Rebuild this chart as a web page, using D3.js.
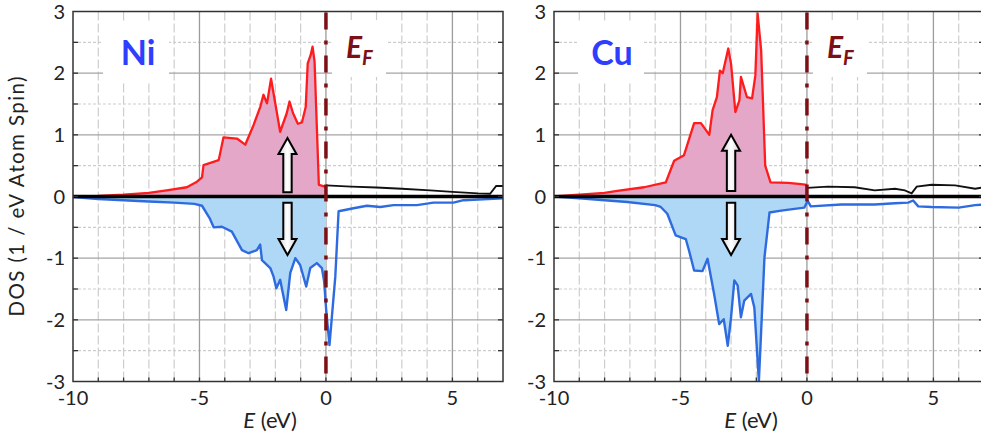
<!DOCTYPE html>
<html>
<head>
<meta charset="utf-8">
<script src="https://cdn.jsdelivr.net/npm/d3@7"></script>
<style>
  html, body { margin: 0; padding: 0; background: #fff; overflow: hidden; }
  svg { display: block; font-family: Lato, "Open Sans", sans-serif; }
</style>
</head>
<body>
<svg id="chart" width="981" height="439"></svg>
<script>
// Axis ranges and tick labels
const energyDomain = [-10, 7];
const dosDomain = [-3, 3];
const energyTickLabels = [-10, -5, 0, 5];
const dosTickLabels = [-3, -2, -1, 0, 1, 2, 3];

// Ni: spin-up (occupied), spin-up above E_F, spin-down  [E (eV), DOS]
const niSpinUp = [[-10,0],[-9,0.01],[-8,0.03],[-7,0.06],[-6.3,0.1],[-5.5,0.15],[-5.1,0.24],[-4.9,0.31],[-4.84,0.51],
  [-4.24,0.59],[-4.05,0.96],[-3.52,0.94],[-3.19,0.84],[-2.86,1.16],[-2.6,1.45],[-2.47,1.65],[-2.33,1.51],[-2.17,1.91],
  [-1.81,1.05],[-1.55,1.35],[-1.44,1.54],[-1.3,1.35],[-1.11,1.18],[-0.95,1.2],[-0.8,1.45],[-0.72,2.16],[-0.6,2.3],
  [-0.53,2.43],[-0.45,2.19],[-0.28,0.19],[-0.03,0.16],[0,0.16]];
const niSpinUpEmpty = [[0,0.18],[1,0.16],[2,0.145],[3,0.125],[4.12,0.1],[5,0.075],[6,0.05],[6.49,0.045],[6.73,0.17],[7,0.17]];
const niSpinDown = [[-10,-0.01],[-9,-0.04],[-8,-0.06],[-7,-0.08],[-6,-0.1],[-5.2,-0.12],[-4.9,-0.15],[-4.6,-0.35],
  [-4.44,-0.5],[-4.11,-0.49],[-3.72,-0.57],[-3.32,-0.87],[-3.06,-0.92],[-2.73,-0.87],[-2.6,-0.78],[-2.53,-1.03],
  [-2.2,-1.16],[-2.07,-1.3],[-1.96,-1.49],[-1.81,-1.35],[-1.57,-1.84],[-1.41,-1.24],[-1.21,-1.0],[-1.02,-1.11],
  [-0.78,-1.46],[-0.62,-1.16],[-0.36,-1.08],[-0.16,-1.16],[-0.07,-1.38],[0.01,-1.84],[0.14,-2.41],[0.37,-1.3],
  [0.5,-0.24],[1.09,-0.19],[1.62,-0.15],[2.15,-0.17],[2.67,-0.14],[3.6,-0.14],[4.25,-0.1],[5.04,-0.1],[5.44,-0.06],[7,-0.03]];

// Cu: spin-up (occupied), spin-up above E_F, spin-down
const cuSpinUp = [[-10,0],[-9,0.03],[-8,0.06],[-7.5,0.09],[-6.44,0.15],[-5.58,0.23],[-5.25,0.58],[-4.86,0.67],
  [-4.46,1.19],[-4.19,1.19],[-3.86,1.0],[-3.73,1.4],[-3.56,1.61],[-3.44,2.04],[-3.33,2.0],[-3.11,2.4],[-3.0,2.15],
  [-2.83,1.37],[-2.67,1.56],[-2.61,1.94],[-2.37,1.61],[-2.17,1.59],[-2.04,1.96],[-1.95,2.97],[-1.81,2.37],
  [-1.65,0.5],[-1.44,0.23],[-0.75,0.22],[-0.23,0.2],[0,0.19]];
const cuSpinUpEmpty = [[0,0.14],[0.83,0.16],[1.89,0.15],[2.68,0.1],[3.48,0.125],[3.87,0.1],[4.14,0.05],[4.34,0.16],
  [4.93,0.19],[5.86,0.18],[6.65,0.125],[7,0.15]];
const cuSpinDown = [[-10,0],[-9,-0.03],[-8,-0.06],[-7.1,-0.09],[-6,-0.14],[-5.78,-0.17],[-5.52,-0.28],[-5.19,-0.63],
  [-4.79,-0.69],[-4.66,-0.88],[-4.46,-1.2],[-4.13,-1.21],[-3.93,-1.01],[-3.67,-1.58],[-3.47,-2.07],[-3.29,-1.99],
  [-3.13,-2.42],[-3.0,-1.96],[-2.87,-1.36],[-2.74,-1.44],[-2.61,-1.96],[-2.48,-1.69],[-2.21,-1.58],[-2.08,-1.8],
  [-1.9,-2.99],[-1.81,-2.18],[-1.68,-0.99],[-1.48,-0.26],[-1.02,-0.23],[-0.49,-0.2],[-0.1,-0.18],[0.03,-0.07],
  [0.15,-0.16],[1.36,-0.13],[2.68,-0.13],[3.48,-0.11],[4.0,-0.1],[4.2,-0.065],[4.4,-0.16],[4.93,-0.17],[6.0,-0.18],
  [6.65,-0.14],[7,-0.13]];

// Spin arrows: energy position and vertical extent in DOS units
const niArrows = { e: -1.52, upFrom: 0.07, upTo: 0.95, downFrom: -0.1, downTo: -0.95 };
const cuArrows = { e: -3.0, upFrom: 0.09, upTo: 1.0, downFrom: -0.1, downTo: -0.95 };

const panels = [
  { name: "Ni", left: 73, labelX: 138, boxX: 103, up: niSpinUp, empty: niSpinUpEmpty, down: niSpinDown, arrows: niArrows, yTitle: true },
  { name: "Cu", left: 554, labelX: 612, boxX: 578, up: cuSpinUp, empty: cuSpinUpEmpty, down: cuSpinDown, arrows: cuArrows, yTitle: false }
];

const plotW = 430, plotTop = 11.5, plotH = 370;
const svg = d3.select("#chart");
const defs = svg.append("defs");

const grad = defs.append("linearGradient").attr("id", "arrowFill").attr("x1", 0).attr("x2", 1);
grad.append("stop").attr("offset", "0%").attr("stop-color", "#d4d4d4");
grad.append("stop").attr("offset", "50%").attr("stop-color", "#ffffff");
grad.append("stop").attr("offset", "100%").attr("stop-color", "#d4d4d4");

panels.forEach((p, i) => {
  const x = d3.scaleLinear().domain(energyDomain).range([p.left, p.left + plotW]);
  const y = d3.scaleLinear().domain(dosDomain).range([plotTop + plotH, plotTop]);
  const g = svg.append("g");

  // occupied-state clip (E <= 0)
  const clipId = "occ" + i;
  defs.append("clipPath").attr("id", clipId).append("rect")
    .attr("x", x(energyDomain[0])).attr("y", plotTop).attr("width", x(0) - x(energyDomain[0])).attr("height", plotH);

  // grid
  const minorE = d3.range(-9, 7).filter(v => v % 5 !== 0);
  const minorD = d3.range(-2.5, 3, 1);
  g.selectAll(".vminor").data(minorE).join("line")
    .attr("x1", d => x(d)).attr("x2", d => x(d)).attr("y1", plotTop).attr("y2", plotTop + plotH)
    .attr("stroke", "#cdcdcd").attr("stroke-width", 1.2).attr("stroke-dasharray", "9,3");
  g.selectAll(".hminor").data(minorD).join("line")
    .attr("x1", x(energyDomain[0])).attr("x2", x(energyDomain[1])).attr("y1", d => y(d)).attr("y2", d => y(d))
    .attr("stroke", "#cdcdcd").attr("stroke-width", 1.2).attr("stroke-dasharray", "3,2");
  g.selectAll(".vmajor").data([-5, 0, 5]).join("line")
    .attr("x1", d => x(d)).attr("x2", d => x(d)).attr("y1", plotTop).attr("y2", plotTop + plotH)
    .attr("stroke", "#9c9c9c").attr("stroke-width", 1.3);
  g.selectAll(".hmajor").data([-2, -1, 1, 2]).join("line")
    .attr("x1", x(energyDomain[0])).attr("x2", x(energyDomain[1])).attr("y1", d => y(d)).attr("y2", d => y(d))
    .attr("stroke", "#a4a4a4").attr("stroke-width", 1.3);

  // white boxes behind the in-plot labels
  g.append("rect").attr("x", p.boxX).attr("y", 23).attr("width", 66).attr("height", 60).attr("fill", "#fff");
  g.append("rect").attr("x", x(0) + 6).attr("y", 20).attr("width", 54).attr("height", 57).attr("fill", "#fff");

  // fills for occupied states
  const areaUp = d3.area().x(d => x(d[0])).y0(y(0)).y1(d => y(d[1]));
  g.append("path").datum(p.up).attr("d", areaUp).attr("fill", "#e5a7c8").attr("clip-path", `url(#${clipId})`);
  g.append("path").datum(p.down).attr("d", areaUp).attr("fill", "#aed8f5").attr("clip-path", `url(#${clipId})`);

  // curves
  const line = d3.line().x(d => x(d[0])).y(d => y(d[1]));
  g.append("path").datum(p.empty).attr("d", line).attr("fill", "none").attr("stroke", "#111").attr("stroke-width", 1.9);
  g.append("path").datum(p.down).attr("d", line).attr("fill", "none").attr("stroke", "#2e6be0").attr("stroke-width", 2.4)
    .attr("stroke-linejoin", "round");
  g.append("path").datum(p.up).attr("d", line).attr("fill", "none").attr("stroke", "#ff1c1c").attr("stroke-width", 2.3)
    .attr("stroke-linejoin", "round");

  // zero line
  g.append("line").attr("x1", x(energyDomain[0])).attr("x2", x(energyDomain[1])).attr("y1", y(0)).attr("y2", y(0))
    .attr("stroke", "#000").attr("stroke-width", 3.5);

  // spin arrows
  const a = p.arrows, cx = x(a.e), sw = 4.2, hw = 9, hl = 16;
  const upPath = (x0, yb, yt) => `M${x0 - sw},${yb} L${x0 - sw},${yt + hl} L${x0 - hw},${yt + hl} L${x0},${yt} L${x0 + hw},${yt + hl} L${x0 + sw},${yt + hl} L${x0 + sw},${yb} Z`;
  const downPath = (x0, yt, yb) => `M${x0 - sw},${yt} L${x0 - sw},${yb - hl} L${x0 - hw},${yb - hl} L${x0},${yb} L${x0 + hw},${yb - hl} L${x0 + sw},${yb - hl} L${x0 + sw},${yt} Z`;
  g.append("path").attr("d", upPath(cx, y(a.upFrom), y(a.upTo)))
    .attr("fill", "url(#arrowFill)").attr("stroke", "#000").attr("stroke-width", 2).attr("stroke-linejoin", "miter");
  g.append("path").attr("d", downPath(cx, y(a.downFrom), y(a.downTo)))
    .attr("fill", "url(#arrowFill)").attr("stroke", "#000").attr("stroke-width", 2).attr("stroke-linejoin", "miter");

  // Fermi level
  g.append("line").attr("x1", x(0)).attr("x2", x(0)).attr("y1", plotTop + 1).attr("y2", plotTop + plotH)
    .attr("stroke", "#7c1014").attr("stroke-width", 3.5).attr("stroke-dasharray", "17,11,4,11");

  // frame
  g.append("rect").attr("x", p.left).attr("y", plotTop).attr("width", plotW).attr("height", plotH)
    .attr("fill", "none").attr("stroke", "#333").attr("stroke-width", 1.5);

  // ticks (inside)
  g.selectAll(".xt").data(d3.range(-9, 7)).join("line")
    .attr("x1", d => x(d)).attr("x2", d => x(d)).attr("y1", plotTop + plotH).attr("y2", plotTop + plotH - 4)
    .attr("stroke", "#333").attr("stroke-width", 1.3);
  const yTickVals = d3.range(-2.5, 3, 0.5);
  g.selectAll(".ytl").data(yTickVals).join("line")
    .attr("x1", p.left).attr("x2", p.left + 5).attr("y1", d => y(d)).attr("y2", d => y(d))
    .attr("stroke", "#333").attr("stroke-width", 1.3);
  g.selectAll(".ytr").data(yTickVals).join("line")
    .attr("x1", p.left + plotW).attr("x2", p.left + plotW - 5).attr("y1", d => y(d)).attr("y2", d => y(d))
    .attr("stroke", "#333").attr("stroke-width", 1.3);

  // tick labels
  g.selectAll(".xl").data(energyTickLabels).join("text")
    .attr("x", d => x(d)).attr("y", 405).attr("text-anchor", "middle")
    .attr("font-size", 20).attr("fill", "#222").text(d => d);
  g.selectAll(".yl").data(dosTickLabels).join("text")
    .attr("x", p.left - 8).attr("y", d => y(d)).attr("dy", "0.36em").attr("text-anchor", "end")
    .attr("font-size", 20).attr("fill", "#222").text(d => d);

  // axis title
  const xt = g.append("text").attr("x", p.left + plotW / 2 - 18).attr("y", 428).attr("text-anchor", "middle")
    .attr("font-size", 22).attr("fill", "#222");
  xt.append("tspan").attr("font-style", "italic").text("E");
  xt.append("tspan").text(" (eV)");

  if (p.yTitle) {
    g.append("text").attr("transform", `translate(24,${plotTop + plotH / 2}) rotate(-90)`)
      .attr("text-anchor", "middle").attr("font-size", 20.5).attr("fill", "#222")
      .attr("textLength", 240).attr("lengthAdjust", "spacing")
      .text("DOS (1 / eV Atom Spin)");
  }

  // element label
  g.append("text").attr("x", p.labelX).attr("y", 65).attr("text-anchor", "middle")
    .attr("font-size", 34).attr("font-weight", "bold").attr("fill", "#2f3dff").text(p.name);

  // E_F label
  const ef = g.append("text").attr("x", x(0) + 20).attr("y", 58)
    .attr("font-weight", "bold").attr("font-style", "italic").attr("fill", "#7c1014");
  ef.append("tspan").attr("font-size", 30).text("E");
  ef.append("tspan").attr("font-size", 20).attr("dy", 7).text("F");
});
</script>
</body>
</html>
